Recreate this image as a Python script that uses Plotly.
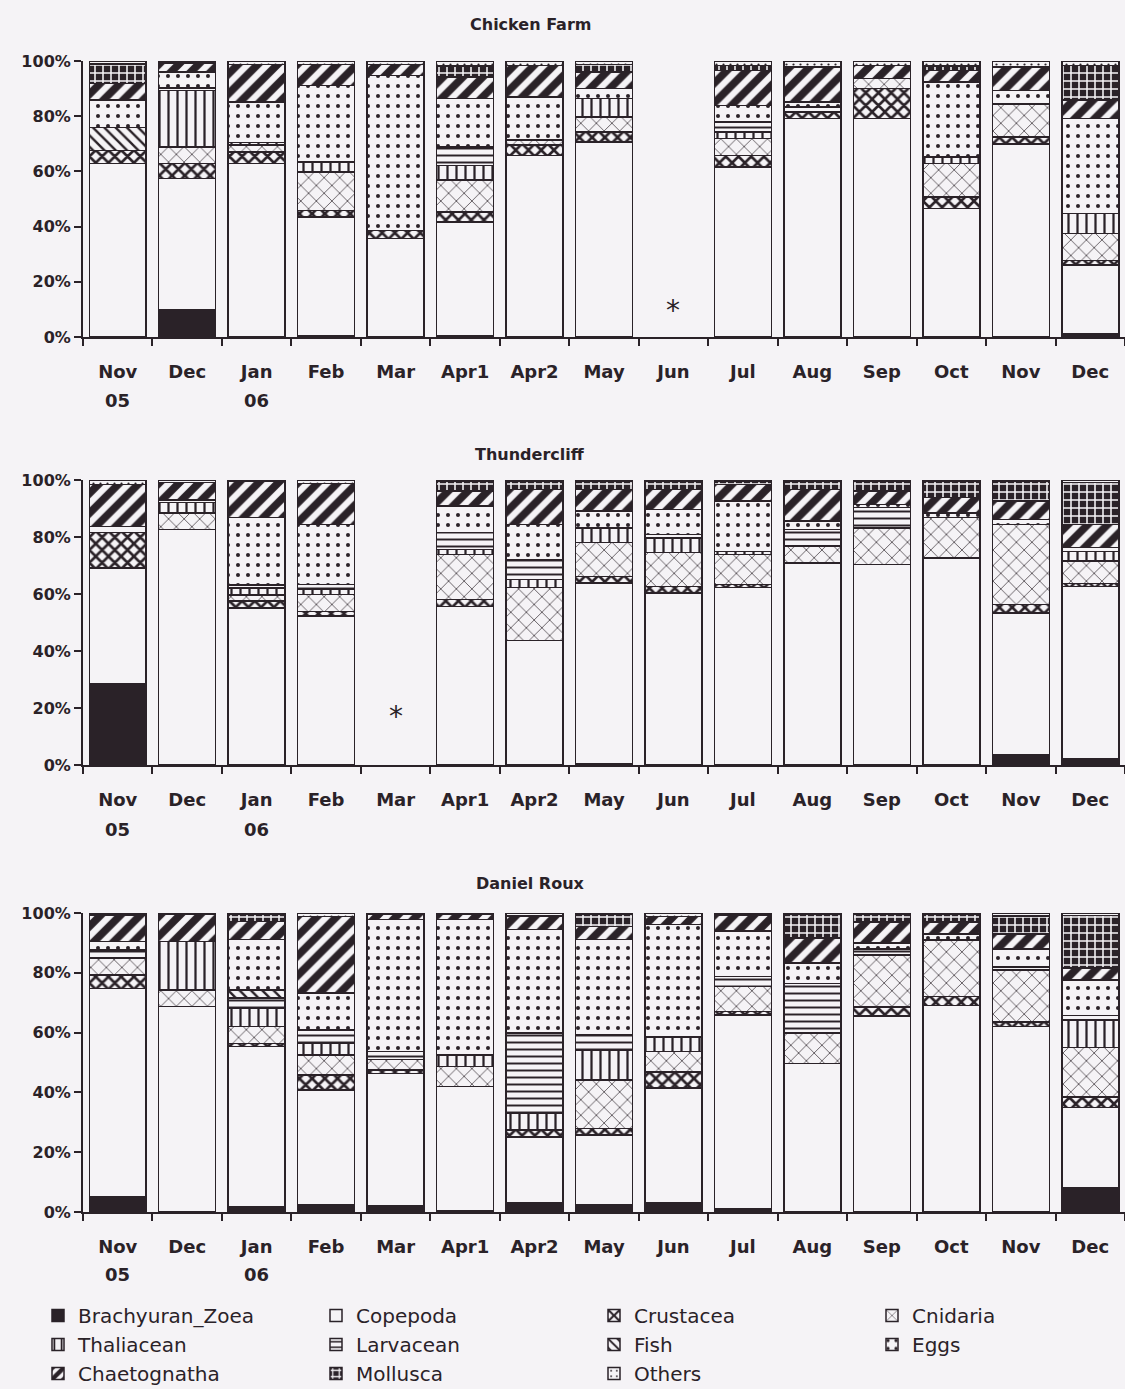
import plotly.graph_objects as go

# Sampling occasions (one bar each); Jun at Chicken Farm and Mar at Thundercliff were not sampled
month_labels = ["Nov", "Dec", "Jan", "Feb", "Mar", "Apr1", "Apr2", "May",
                "Jun", "Jul", "Aug", "Sep", "Oct", "Nov", "Dec"]
year_labels = {0: "05", 2: "06"}
sites = ["Chicken Farm", "Thundercliff", "Daniel Roux"]
groups = ["Brachyuran_Zoea", "Copepoda", "Crustacea", "Cnidaria", "Thaliacean",
          "Larvacean", "Fish", "Eggs", "Chaetognatha", "Mollusca", "Others"]

# Percentage composition per group, Chicken Farm
cf_brachyuran = [0, 9.7, 0, 0.5, 0, 0.5, 0, 0, None, 0, 0, 0, 0, 0, 1]
cf_copepoda = [62.8, 47.7, 62.8, 43, 35.6, 41.2, 65.8, 70.7, None, 61.6, 79.1, 79.1, 46.5, 70, 25]
cf_crustacea = [4.8, 5.4, 4.2, 2.4, 3, 3.6, 3.7, 3.6, None, 4.2, 2.4, 10.9, 4.2, 2.5, 1.8]
cf_cnidaria = [0, 6, 2.5, 13.9, 0, 11.5, 1.8, 5.4, None, 6.1, 0, 3.6, 12.1, 12, 9.7]
cf_thaliacean = [0, 20.6, 1, 3.6, 0, 5.4, 0, 6.7, None, 2.4, 0, 0, 2.4, 0, 7.2]
cf_larvacean = [0, 0.8, 0, 0, 0, 6.6, 0, 0, None, 3.6, 1.8, 0, 0, 0, 0]
cf_fish = [8.3, 0, 0, 0, 0, 0, 0, 0, None, 0, 0, 0, 0, 0, 0]
cf_eggs = [9.9, 5.8, 14.6, 27.8, 56.2, 17.6, 15.7, 3.6, None, 6, 1.8, 0, 27.2, 4.9, 34.4]
cf_chaetognatha = [6, 3.3, 13.7, 7.6, 4, 7.8, 11.4, 6, None, 12.7, 12.7, 4.8, 4.2, 8.4, 6.7]
cf_mollusca = [7.2, 0, 0, 0, 0, 3.9, 0, 2.8, None, 1.8, 0, 0, 1.5, 0, 12.6]
cf_others = [1, 0.7, 1.2, 1.2, 1.2, 1.9, 1.6, 1.2, None, 1.6, 2.2, 1.6, 1.9, 2.2, 1.6]

# Percentage composition per group, Thundercliff
tc_brachyuran = [28.4, 0, 0, 0, None, 0, 0, 0.5, 0, 0, 0, 0, 0, 3.5, 2.3]
tc_copepoda = [40.8, 82.7, 55.1, 52.2, None, 55.7, 43.7, 63.4, 60.4, 62.2, 70.9, 70.3, 72.7, 49.9, 60.4]
tc_crustacea = [12.3, 0, 2.5, 1.7, None, 2.3, 0, 2.3, 2.3, 1.1, 0, 0, 0, 2.9, 1]
tc_cnidaria = [0, 5.8, 2, 5.9, None, 15.9, 18.5, 11.8, 11.8, 10.6, 5.9, 12.9, 14.1, 28.1, 7.8]
tc_thaliacean = [0, 3.6, 2.5, 2, None, 1.7, 2.9, 5.2, 5.2, 1.1, 0, 0, 0, 0, 3.5]
tc_larvacean = [0, 0, 1, 1.5, None, 5.9, 7, 0, 1.2, 0, 5.9, 7.1, 0, 0, 0]
tc_fish = [0, 0, 0, 0, None, 0, 0, 0, 0, 0, 0, 0, 0, 0, 0]
tc_eggs = [2.1, 0.9, 23.7, 21.1, None, 9.4, 12.3, 5.9, 8.8, 17.6, 2.9, 1.1, 1.7, 1.8, 1.3]
tc_chaetognatha = [14.9, 6.1, 12.8, 14.4, None, 5.2, 12.3, 7.6, 7, 5.9, 11.1, 4.7, 5.3, 6.4, 8.1]
tc_mollusca = [0, 0, 0, 0, None, 3.5, 2.9, 2.9, 2.9, 1.1, 2.9, 3.5, 5.8, 7, 14.7]
tc_others = [1.5, 0.9, 0.4, 1.2, None, 0.4, 0.4, 0.4, 0.4, 0.4, 0.4, 0.4, 0.4, 0.4, 0.9]

# Percentage composition per group, Daniel Roux
dr_brachyuran = [5, 0, 1.7, 2.5, 2, 0.5, 3, 2.5, 3, 1, 0, 0, 0, 0, 8]
dr_copepoda = [69.8, 68.7, 53.6, 38.3, 44.4, 41.4, 22.1, 23.2, 38.4, 64.9, 49.7, 65.5, 69, 62, 27]
dr_crustacea = [4.5, 0, 1.1, 5, 1.1, 0, 2.3, 2.2, 5.5, 1.1, 0, 3, 3, 1.5, 3.5]
dr_cnidaria = [5.6, 5.6, 5.6, 6.7, 3.5, 6.7, 0, 16.2, 6.7, 8.4, 10.1, 17.5, 19, 17.5, 16.5]
dr_thaliacean = [0, 16.2, 6.2, 3.9, 0, 3.9, 5.6, 10.1, 5, 0, 0, 0, 0, 0, 9.2]
dr_larvacean = [2.8, 0, 3.3, 4.5, 2.6, 0, 26.8, 5, 0, 3.4, 16.7, 2, 0, 1, 1.5]
dr_fish = [0, 0, 2.8, 0, 0, 0, 0, 0, 0, 0, 0, 0, 0, 0, 0]
dr_eggs = [2.8, 0, 16.8, 12.3, 44.2, 45.3, 34.6, 31.9, 37.5, 15.1, 6.7, 2, 2, 6, 11.9]
dr_chaetognatha = [8.9, 9, 6.1, 25.7, 1.7, 1.7, 4.6, 4.4, 2.8, 5.5, 8.4, 7, 4, 5, 4]
dr_mollusca = [0, 0, 2.4, 0, 0, 0, 0, 4, 0, 0, 8, 2.5, 2.5, 6, 17.6]
dr_others = [0.6, 0.5, 0.4, 1.1, 0.5, 0.5, 1, 0.5, 1.1, 0.6, 0.4, 0.5, 0.5, 1, 0.8]

site_data = [
    [cf_brachyuran, cf_copepoda, cf_crustacea, cf_cnidaria, cf_thaliacean, cf_larvacean,
     cf_fish, cf_eggs, cf_chaetognatha, cf_mollusca, cf_others],
    [tc_brachyuran, tc_copepoda, tc_crustacea, tc_cnidaria, tc_thaliacean, tc_larvacean,
     tc_fish, tc_eggs, tc_chaetognatha, tc_mollusca, tc_others],
    [dr_brachyuran, dr_copepoda, dr_crustacea, dr_cnidaria, dr_thaliacean, dr_larvacean,
     dr_fish, dr_eggs, dr_chaetognatha, dr_mollusca, dr_others],
]
missing = {0: 8, 1: 4}          # panel -> index of unsampled month
asterisk_level = {0: 9.5, 1: 17}

INK = "#2a2228"
PAPER = "#f5f3f6"

# Fill style of each group (monochrome hatching)
styles = {
    "Brachyuran_Zoea": dict(color=INK),
    "Copepoda": dict(color=PAPER),
    "Crustacea": dict(color=PAPER, pattern=dict(shape="x", size=9, solidity=0.5)),
    "Cnidaria": dict(color=PAPER, pattern=dict(shape="x", size=11, solidity=0.12)),
    "Thaliacean": dict(color=PAPER, pattern=dict(shape="|", size=9, solidity=0.25)),
    "Larvacean": dict(color=PAPER, pattern=dict(shape="-", size=7, solidity=0.28)),
    "Fish": dict(color=PAPER, pattern=dict(shape="\\", size=8, solidity=0.3)),
    "Eggs": dict(color=PAPER, pattern=dict(shape=".", size=10, solidity=0.13)),
    "Chaetognatha": dict(color=PAPER, pattern=dict(shape="/", size=14, solidity=0.55)),
    "Mollusca": dict(color=INK, pattern=dict(shape="+", size=8, solidity=0.35)),
    "Others": dict(color=PAPER, pattern=dict(shape=".", size=7, solidity=0.08)),
}

W, H = 1125, 1389
X0 = 83 / W                       # left edge of the plotting area
# vertical extent (pixel rows) of each panel's plotting area
panel_px = [(61, 337), (480, 765), (913, 1212)]
title_px = [25, 455, 883]
year_px = [401, 829, 1274]


def fy(px):
    return 1 - px / H


fig = go.Figure()
xs = list(range(len(month_labels)))
for p in range(3):
    suffix = "" if p == 0 else str(p + 1)
    for g, name in enumerate(groups):
        st = styles[name]
        marker = dict(color=st["color"], line=dict(color=INK, width=1.5))
        if "pattern" in st:
            pat = dict(st["pattern"])
            if st["color"] == INK:   # light lines on a dark ground
                pat.update(fgcolor=PAPER, bgcolor=INK)
            else:
                pat.update(fgcolor=INK, bgcolor=PAPER)
            pat["fgopacity"] = 1
            marker["pattern"] = pat
        fig.add_trace(go.Bar(
            x=xs, y=site_data[p][g], name=name, legendgroup=name,
            showlegend=(p == 0), legendrank=g + 1,
            marker=marker, width=0.82,
            xaxis="x" + suffix, yaxis="y" + suffix,
        ))

layout_axes = {}
for p in range(3):
    suffix = "" if p == 0 else str(p + 1)
    top, bottom = panel_px[p]
    layout_axes["xaxis" + suffix] = dict(
        domain=[X0, 1], anchor="y" + suffix, range=[-0.5, 14.5], automargin=False,
        tickmode="array", tickvals=xs, ticktext=month_labels,
        ticks="", showline=True, linecolor=INK, linewidth=2,
        showgrid=False, zeroline=False, ticklabelstandoff=17,
        tickfont=dict(family="DejaVu Sans", size=18, color=INK, weight="bold"),
        minor=dict(ticks="outside", ticklen=7, tickwidth=2, tickcolor=INK,
                   tickmode="array", tickvals=[i - 0.5 for i in range(16)], showgrid=False),
    )
    layout_axes["yaxis" + suffix] = dict(
        domain=[fy(bottom), fy(top)], anchor="x" + suffix, range=[0, 100], automargin=False,
        tickmode="linear", tick0=0, dtick=20, ticksuffix="%",
        ticks="outside", ticklen=7, tickwidth=2, tickcolor=INK,
        showline=True, linecolor=INK, linewidth=2, showgrid=False, zeroline=False,
        tickfont=dict(family="DejaVu Sans", size=16, color=INK, weight="bold"),
    )

annotations = []
for p in range(3):
    suffix = "" if p == 0 else str(p + 1)
    annotations.append(dict(
        text=sites[p], xref="paper", yref="paper", x=530 / W,
        y=fy(title_px[p]), xanchor="center", yanchor="middle", showarrow=False,
        font=dict(family="DejaVu Sans", size=16, color=INK, weight="bold"),
    ))
    for i, yr in year_labels.items():
        annotations.append(dict(
            text=yr, xref="x" + suffix, yref="paper", x=i, y=fy(year_px[p]),
            xanchor="center", yanchor="middle", showarrow=False,
            font=dict(family="DejaVu Sans", size=18, color=INK, weight="bold"),
        ))
    if p in missing:
        annotations.append(dict(
            text="*", xref="x" + suffix, yref="y" + suffix, x=missing[p], y=asterisk_level[p],
            xanchor="center", yanchor="middle", showarrow=False,
            font=dict(family="DejaVu Sans", size=28, color=INK),
        ))

fig.update_layout(
    width=W, height=H,
    margin=dict(l=0, r=0, t=0, b=0, autoexpand=False),
    paper_bgcolor=PAPER, plot_bgcolor=PAPER,
    barmode="stack", bargap=0.18,
    font=dict(family="DejaVu Sans", color=INK),
    showlegend=True,
    legend=dict(
        orientation="h", traceorder="normal",
        x=38 / W, xanchor="left",
        y=fy(1296), yanchor="top",
        entrywidth=233, entrywidthmode="pixels",
        itemwidth=30, bgcolor="rgba(0,0,0,0)",
        font=dict(family="DejaVu Sans", size=20, color=INK),
        tracegroupgap=0,
    ),
    annotations=annotations,
    **layout_axes,
)

fig.write_html("out.html")
